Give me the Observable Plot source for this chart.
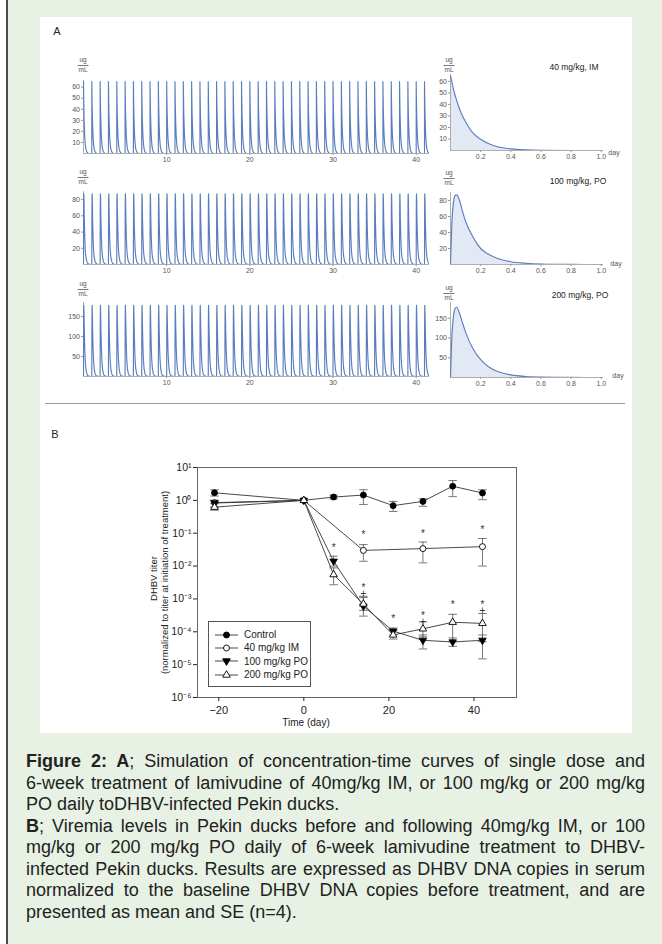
<!DOCTYPE html>
<html><head><meta charset="utf-8">
<script src="https://cdn.jsdelivr.net/npm/d3@7"></script>
<script src="https://cdn.jsdelivr.net/npm/@observablehq/plot@0.6"></script>
<style>
html,body{margin:0;padding:0;}
body{width:662px;height:944px;background:#fff;position:relative;overflow:hidden;font-family:"Liberation Sans",Arial,sans-serif;}
#box{position:absolute;left:6px;top:0;width:656px;height:944px;background:#e7f1e4;border-left:2px solid #4a4a4a;box-sizing:border-box;}
#fig{position:absolute;left:40px;top:17px;width:592px;height:716px;background:#fff;}
.t{position:absolute;white-space:nowrap;transform:translate(-50%,-50%);line-height:1;}
.frac{position:absolute;transform:translateX(-50%);font-size:6.5px;color:#555;text-align:center;line-height:1;}
.frac span{display:block;padding:0 1px;}
.frac span.top{border-bottom:0.8px solid #777;padding-bottom:1px;margin-bottom:1px;}
#caption{position:absolute;left:26px;top:751px;width:619px;font-size:18px;line-height:21.5px;color:#222;}
#caption div{text-align:justify;text-align-last:justify;}
#caption div.last{text-align-last:left;}
#legend{position:absolute;left:208px;top:621px;width:103px;height:66px;border:1px solid #555;box-sizing:border-box;background:#fff;font-size:10px;color:#222;}
#legend .row{position:absolute;left:5px;height:13px;display:flex;align-items:center;white-space:nowrap;}
#legend svg{margin-right:5px;}
</style>
</head><body>
<div id="box"></div>
<div id="fig"></div>
<div id="caption">
<div><b>Figure 2: A</b>; Simulation of concentration-time curves of single dose and</div>
<div>6-week treatment of lamivudine of 40mg/kg IM, or 100 mg/kg or 200 mg/kg</div>
<div class="last">PO daily toDHBV-infected Pekin ducks.</div>
<div><b>B</b>; Viremia levels in Pekin ducks before and following 40mg/kg IM, or 100</div>
<div>mg/kg or 200 mg/kg PO daily of 6-week lamivudine treatment to DHBV-</div>
<div>infected Pekin ducks. Results are expressed as DHBV DNA copies in serum</div>
<div>normalized to the baseline DHBV DNA copies before treatment, and are</div>
<div class="last">presented as mean and SE (n=4).</div>
</div>
<div id="legend"></div>
<script>
// ---------------- Panel A data (ug/mL), single-dose profiles
const profileT  = [0, 0.01, 0.02, 0.03, 0.04, 0.06, 0.08, 0.1, 0.15, 0.2, 0.25, 0.3, 0.4, 0.5, 0.6, 0.8, 1.0];
const concIM40  = [65, 59, 53, 48, 44, 36, 30, 25, 15, 9.7, 6, 3.7, 1.4, 0.5, 0.2, 0.03, 0];
const concPO100 = [0, 55, 78, 86, 87, 80, 66, 54, 34, 20, 13, 8.5, 3.5, 1.5, 0.6, 0.1, 0];
const concPO200 = [0, 110, 155, 174, 178, 162, 138, 115, 72, 45, 28, 17, 6.5, 2.5, 1, 0.2, 0];
const doseDays  = [0,1,2,3,4,5,6,7,8,9,10,11,12,13,14,15,16,17,18,19,20,21,22,23,24,25,26,27,28,29,30,31,32,33,34,35,36,37,38,39,40,41];
const regimenLabels = ["40 mg/kg, IM", "100 mg/kg, PO", "200 mg/kg, PO"];
const longXTicks = [10, 20, 30, 40];
const shortXTicks = [0.2, 0.4, 0.6, 0.8, 1.0];
const yTicksIM40 = [10, 20, 30, 40, 50, 60];
const yTicksPO100 = [20, 40, 60, 80];
const yTicksPO200 = [50, 100, 150];

// ---------------- Panel B data (DHBV titer normalized to day 0)
const ctrlDays = [-21, 0, 7, 14, 21, 28, 35, 42];
const ctrlMean = [1.7, 1.0, 1.26, 1.45, 0.69, 0.93, 2.7, 1.67];
const ctrlLo   = [1.35, 1.0, 1.1, 0.75, 0.46, 0.66, 1.3, 1.05];
const ctrlHi   = [2.1, 1.0, 1.45, 2.1, 0.93, 1.12, 4.0, 2.1];

const im40Days = [-21, 0, 14, 28, 42];
const im40Mean = [0.85, 1.0, 0.030, 0.034, 0.039];
const im40Lo   = [0.62, 1.0, 0.014, 0.0125, 0.010];
const im40Hi   = [1.0, 1.0, 0.045, 0.054, 0.069];

const po100Days = [-21, 0, 7, 14, 21, 28, 35, 42];
const po100Mean = [0.83, 1.0, 0.014, 0.0006, 0.000105, 0.000055, 0.000049, 0.000055];
const po100Lo   = [0.62, 1.0, 0.010, 0.0003, 0.00008, 0.00003, 0.000036, 0.000015];
const po100Hi   = [1.0, 1.0, 0.020, 0.0011, 0.00013, 0.00008, 0.000065, 0.00008];

const po200Days = [-21, 0, 7, 14, 21, 28, 35, 42];
const po200Mean = [0.62, 1.0, 0.0055, 0.0007, 0.00008, 0.000123, 0.000195, 0.00018];
const po200Lo   = [0.5, 1.0, 0.0027, 0.00045, 0.00006, 0.00007, 0.00005, 0.00005];
const po200Hi   = [0.8, 1.0, 0.0088, 0.0012, 0.00011, 0.0002, 0.00034, 0.00036];

// significance marks (* vs control, + vs 40 mg/kg IM); stacked marks share one label
const sigDays = [7, 14, 14, 21, 28, 28, 35, 42, 42];
const sigY    = [0.037, 0.093, 0.00184, 0.00026, 0.1, 0.00026, 0.00069, 0.134, 0.00056];
const sigText = ["*", "*", "*\n+", "*", "*", "*\n+", "*", "*", "*\n+"];

const yTicksB = [1e-6, 1e-5, 1e-4, 1e-3, 1e-2, 1e-1, 1, 10];
const xTicksB = [-20, 0, 20, 40];
const seriesNames = ["Control", "40 mg/kg IM", "100 mg/kg PO", "200 mg/kg PO"];

// ---------------- helpers
const BLUE = "#5a7ebd";
function place(el, left, top) {
  el.style.position = "absolute";
  el.style.left = left + "px";
  el.style.top = top + "px";
  document.body.appendChild(el);
  return el;
}
function text(str, x, y, css) {
  const d = document.createElement("div");
  d.className = "t";
  d.textContent = str;
  d.style.left = x + "px"; d.style.top = y + "px";
  Object.assign(d.style, css || {});
  document.body.appendChild(d);
}
function frac(x, y) {
  const d = document.createElement("div");
  d.className = "frac";
  d.innerHTML = '<span class="top">ug</span><span>mL</span>';
  d.style.left = x + "px"; d.style.top = y + "px";
  document.body.appendChild(d);
}
function profile(conc) { return profileT.map((t, i) => ({t, c: conc[i]})); }
function multiDose(conc) { return doseDays.flatMap(d => profileT.map((t, i) => ({t: d + t, c: conc[i]}))); }

function mini({pts, xDom, yDom, x0, x1, yt, yb, xTicks, yTicks, fill, xFmt, curve}) {
  const mL = 24, mR = 4, mT = 4, mB = 14;
  const svg = Plot.plot({
    width: Math.round(x1 - x0) + mL + mR,
    height: Math.round(yb - yt) + mT + mB,
    marginLeft: mL, marginRight: mR, marginTop: mT, marginBottom: mB,
    x: {domain: xDom},
    y: {domain: yDom},
    style: {fontFamily: "Liberation Sans, Arial, sans-serif", fontSize: "7px", color: "#555", background: "none", overflow: "visible"},
    marks: [
      fill ? Plot.areaY(pts, {x: "t", y: "c", fill: BLUE, fillOpacity: 0.17, curve}) : null,
      Plot.ruleY([0], {stroke: "#999", strokeWidth: 0.8}),
      Plot.ruleX([0], {stroke: "#999", strokeWidth: 0.8}),
      Plot.line(pts, {x: "t", y: "c", stroke: BLUE, strokeWidth: 1.15, curve, clip: true}),
      Plot.axisX({ticks: xTicks, tickSize: 2, tickPadding: 2, tickFormat: xFmt, label: null, stroke: "#999"}),
      Plot.axisY({ticks: yTicks, tickSize: 2, tickPadding: 1.5, label: null, stroke: "#999"})
    ]
  });
  place(svg, Math.round(x0) - mL, Math.round(yt) - mT);
}

// ---------------- Panel A
text("A", 57, 31, {fontSize: "11px", color: "#222"});
const rows = [
  {conc: concIM40,  yTicks: yTicksIM40,  left: {yDom: [0, 66],  yt: 80.4, yb: 153}, right: {yDom: [0, 66],  yt: 74.1, yb: 150}, fracY: [57, 57], lab: [574, 67], day: [614, 152]},
  {conc: concPO100, yTicks: yTicksPO100, left: {yDom: [0, 90],  yt: 190.9, yb: 264}, right: {yDom: [0, 90], yt: 192, yb: 264}, fracY: [169, 170], lab: [578, 181], day: [616, 263]},
  {conc: concPO200, yTicks: yTicksPO200, left: {yDom: [0, 185], yt: 302, yb: 376},  right: {yDom: [0, 190], yt: 302.3, yb: 377}, fracY: [281, 285], lab: [580, 295], day: [618, 375]}
];
rows.forEach((r, i) => {
  mini({pts: multiDose(r.conc), xDom: [0, 41.6], yDom: r.left.yDom, x0: 83, x1: 428.7, yt: r.left.yt, yb: r.left.yb,
        xTicks: longXTicks, yTicks: r.yTicks, fill: false, curve: "linear"});
  mini({pts: profile(r.conc), xDom: [0, 1.015], yDom: r.right.yDom, x0: 450, x1: 603.3, yt: r.right.yt, yb: r.right.yb,
        xTicks: shortXTicks, yTicks: r.yTicks, fill: true, xFmt: d3.format(".1f"), curve: "monotone-x"});
  frac(83, r.fracY[0]);
  frac(449, r.fracY[1]);
  text(regimenLabels[i], r.lab[0], r.lab[1], {fontSize: "8.5px", color: "#222"});
  text("day", r.day[0], r.day[1], {fontSize: "7px", color: "#555"});
});
// divider
const hr = document.createElement("div");
Object.assign(hr.style, {position: "absolute", left: "45px", top: "403px", width: "580px", height: "1px", background: "#9a9a9a"});
document.body.appendChild(hr);

// ---------------- Panel B
text("B", 55, 434, {fontSize: "11px", color: "#222"});
function series(name, days, mean, lo, hi) {
  return days.map((d, i) => ({name, day: d, v: mean[i], lo: lo[i], hi: hi[i]}));
}
const sCtrl = series(seriesNames[0], ctrlDays, ctrlMean, ctrlLo, ctrlHi);
const sIM = series(seriesNames[1], im40Days, im40Mean, im40Lo, im40Hi);
const sP1 = series(seriesNames[2], po100Days, po100Mean, po100Lo, po100Hi);
const sP2 = series(seriesNames[3], po200Days, po200Mean, po200Lo, po200Hi);
const all = [...sCtrl, ...sIM, ...sP1, ...sP2];
const bars = all.filter(d => d.hi > d.lo);
const caps = bars.flatMap(d => [{x: d.day, y: d.lo}, {x: d.day, y: d.hi}]);
const sig = sigDays.map((d, i) => ({day: d, y: sigY[i], s: sigText[i]}));
const sup = {"-": "\u207B", "0": "\u2070", "1": "\u00B9", "2": "\u00B2", "3": "\u00B3", "4": "\u2074", "5": "\u2075", "6": "\u2076", "7": "\u2077", "8": "\u2078", "9": "\u2079"};
const powFmt = v => "10" + String(Math.round(Math.log10(v))).split("").map(c => sup[c]).join("");

const mLB = 52, mRB = 10, mTB = 10, mBB = 34;
const plotB = Plot.plot({
  width: 319 + mLB + mRB, height: 230 + mTB + mBB,
  marginLeft: mLB, marginRight: mRB, marginTop: mTB, marginBottom: mBB,
  x: {domain: [-25, 50]},
  y: {type: "log", domain: [1e-6, 10]},
  style: {fontFamily: "Liberation Sans, Arial, sans-serif", fontSize: "11px", color: "#222", background: "none", overflow: "visible"},
  marks: [
    Plot.frame({stroke: "#666", strokeWidth: 1}),
    Plot.line(all, {x: "day", y: "v", z: "name", stroke: "#333", strokeWidth: 0.9}),
    Plot.ruleX(bars, {x: "day", y1: "lo", y2: "hi", stroke: "#555", strokeWidth: 0.8}),
    Plot.link(caps, {x1: d => d.x - 1, x2: d => d.x + 1, y1: "y", y2: "y", stroke: "#555", strokeWidth: 0.8}),
    Plot.dot(sCtrl, {x: "day", y: "v", r: 3, fill: "#000", stroke: "#000", strokeWidth: 0.8}),
    Plot.dot(sIM, {x: "day", y: "v", r: 3, fill: "#fff", stroke: "#000", strokeWidth: 0.9}),
    Plot.dot(sP1, {x: "day", y: "v", r: 2.8, symbol: "triangle", rotate: 180, fill: "#000", stroke: "#000", strokeWidth: 0.8}),
    Plot.dot(sP2, {x: "day", y: "v", r: 2.8, symbol: "triangle", fill: "#fff", stroke: "#000", strokeWidth: 0.9}),
    Plot.text(sig, {x: "day", y: "y", text: "s", fontSize: 10, lineHeight: 0.62, dy: 2, fill: "#333"}),
    Plot.axisY({ticks: yTicksB, tickFormat: powFmt, tickSize: 4, tickPadding: 2, fontSize: 10.5, label: null}),
    Plot.axisX({ticks: xTicksB, tickSize: 4, tickPadding: 5, label: null}),
    Plot.text(["DHBV titer"], {frameAnchor: "left", rotate: -90, textAnchor: "middle", dx: -44, dy: -4, fontSize: 9.5, fill: "#222"}),
    Plot.text(["(normalized to titer at initiation of treatment)"], {frameAnchor: "left", rotate: -90, textAnchor: "middle", dx: -33, fontSize: 9.5, fill: "#222"}),
    Plot.text(["Time (day)"], {frameAnchor: "bottom", dy: 28, dx: -51, fontSize: 10, fill: "#222"})
  ]
});
place(plotB, 197 - mLB, 467 - mTB);

// legend
const legend = document.getElementById("legend");
const legendSymbols = [
  {type: d3.symbolCircle, size: 28, fill: "#000", rot: 0},
  {type: d3.symbolCircle, size: 28, fill: "#fff", rot: 0},
  {type: d3.symbolTriangle, size: 25, fill: "#000", rot: 180},
  {type: d3.symbolTriangle, size: 25, fill: "#fff", rot: 0}
];
seriesNames.forEach((name, i) => {
  const row = document.createElement("div");
  row.className = "row";
  row.style.top = (6 + i * 13.4) + "px";
  const s = legendSymbols[i];
  const svg = d3.create("svg").attr("width", 25).attr("height", 12);
  svg.append("line").attr("x1", 1).attr("x2", 24).attr("y1", 6).attr("y2", 6).attr("stroke", "#333").attr("stroke-width", 0.9);
  svg.append("path").attr("d", d3.symbol(s.type, s.size)()).attr("transform", `translate(12.5,6) rotate(${s.rot})`)
     .attr("fill", s.fill).attr("stroke", "#000").attr("stroke-width", 0.9);
  row.appendChild(svg.node());
  const sp = document.createElement("span");
  sp.textContent = name;
  row.appendChild(sp);
  legend.appendChild(row);
});
</script>
</body></html>
